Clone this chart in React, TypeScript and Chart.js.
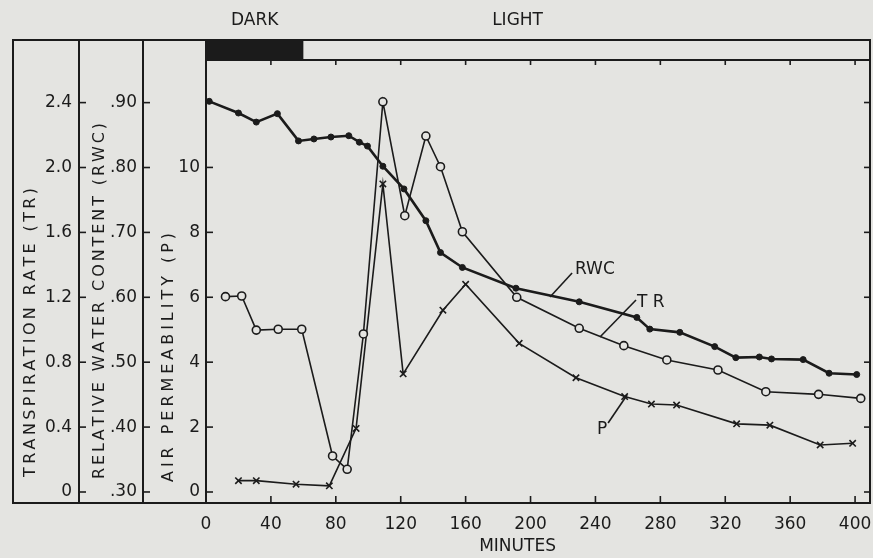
import { useEffect, useRef } from 'react';
import { Chart, registerables } from 'chart.js';

Chart.register(...registerables);

// ---------- data ----------
const RWC_MIN = [2, 20, 31, 44, 57, 66.5, 77, 88, 94.5, 99.5, 109, 122, 135.5, 144.5, 158, 191, 230, 265.5, 273.5, 292, 313.5, 326.5, 341, 348.5, 368, 384, 401];
const RWC_VAL = [0.902, 0.884, 0.870, 0.883, 0.841, 0.844, 0.847, 0.849, 0.839, 0.833, 0.802, 0.767, 0.718, 0.669, 0.646, 0.614, 0.593, 0.569, 0.551, 0.546, 0.524, 0.507, 0.508, 0.505, 0.504, 0.483, 0.481];

const TR_MIN = [12, 22, 31, 44.5, 59, 78, 87, 97, 109, 122.5, 135.5, 144.5, 158, 191.5, 230, 257.5, 284, 315.5, 345, 377.5, 403.5];
const TR_VAL = [1.204, 1.208, 0.998, 1.003, 1.003, 0.222, 0.140, 0.974, 2.405, 1.703, 2.194, 2.005, 1.604, 1.200, 1.009, 0.902, 0.814, 0.752, 0.618, 0.602, 0.577];

const P_MIN = [20, 31, 55.5, 76, 92.5, 109, 121.5, 146, 160, 193, 228, 258, 274.5, 290, 327, 347.5, 378.5, 398.5];
const P_VAL = [0.35, 0.35, 0.24, 0.19, 1.96, 9.49, 3.64, 5.6, 6.4, 4.58, 3.52, 2.94, 2.71, 2.68, 2.10, 2.06, 1.45, 1.50];

const X_TICKS = [0, 40, 80, 120, 160, 200, 240, 280, 320, 360, 400];
const TR_TICKS = [0, 0.4, 0.8, 1.2, 1.6, 2.0, 2.4];
const TR_LABELS = ['0', '0.4', '0.8', '1.2', '1.6', '2.0', '2.4'];
const RWC_TICKS = [0.3, 0.4, 0.5, 0.6, 0.7, 0.8, 0.9];
const RWC_LABELS = ['.30', '.40', '.50', '.60', '.70', '.80', '.90'];
const P_TICKS = [0, 2, 4, 6, 8, 10];
const P_LABELS = ['0', '2', '4', '6', '8', '10'];
const P_RIGHT_TICKS = [0, 2, 4, 6, 8, 10, 12];

const DARK_END = 60;

// curve labels with leader lines (minutes, TR units)
const CURVE_LABELS = ['RWC', 'T R', 'P'];
const LABEL_MIN = [227.4, 265.6, 241.0];
const LABEL_TR = [1.368, 1.165, 0.382];
const LEADER_FROM_MIN = [225.6, 265.0, 247.8];
const LEADER_FROM_TR = [1.350, 1.183, 0.425];
const LEADER_TO_MIN = [212.0, 242.8, 259.5];
const LEADER_TO_TR = [1.202, 0.955, 0.598];

// ---------- style ----------
const INK = '#1b1b1b';
const PAPER = '#e4e4e1';
const FAMILY = '"DejaVu Sans", "Liberation Sans", sans-serif';

function line(ctx: CanvasRenderingContext2D, x1: number, y1: number, x2: number, y2: number) {
  ctx.beginPath();
  ctx.moveTo(x1, y1);
  ctx.lineTo(x2, y2);
  ctx.stroke();
}

function verticalSpaced(ctx: CanvasRenderingContext2D, text: string, cx: number, yBottom: number, length: number) {
  ctx.save();
  ctx.translate(cx, yBottom);
  ctx.rotate(-Math.PI / 2);
  ctx.textAlign = 'left';
  ctx.textBaseline = 'middle';
  const chars = Array.from(text);
  const widths = chars.map((c) => ctx.measureText(c).width);
  const total = widths.reduce((a, b) => a + b, 0);
  const gap = (length - total) / (chars.length - 1);
  let x = 0;
  chars.forEach((c, i) => {
    ctx.fillText(c, x, 0);
    x += widths[i] + gap;
  });
  ctx.restore();
}

const framePlugin = {
  id: 'frame',
  beforeDraw(chart: any) {
    const { ctx, width, height } = chart;
    ctx.save();
    ctx.fillStyle = PAPER;
    ctx.fillRect(0, 0, width, height);
    ctx.restore();
  },
  afterDraw(chart: any) {
    const { ctx, chartArea: ca, scales } = chart;
    const xs = scales.x, tr = scales.tr, rwc = scales.rwc, p = scales.p;
    const top = 40;
    ctx.save();
    ctx.strokeStyle = INK;
    ctx.fillStyle = INK;
    ctx.lineWidth = 2;
    ctx.lineCap = 'square';

    const L = tr.left;
    // outer frame
    line(ctx, L, top, L, ca.bottom);
    line(ctx, L, top, ca.right, top);
    line(ctx, ca.right, top, ca.right, ca.bottom);
    line(ctx, L, ca.bottom, ca.right, ca.bottom);
    // column separators / axis lines
    [tr.right, rwc.right, p.right].forEach((xx: number) => line(ctx, xx, top, xx, ca.bottom));
    // dark/light bar
    line(ctx, p.right, ca.top, ca.right, ca.top);
    const x0 = xs.getPixelForValue(0);
    const x1 = xs.getPixelForValue(DARK_END);
    ctx.fillRect(p.right, top, x1 - p.right, ca.top - top);

    // inward y ticks
    ctx.lineWidth = 1.6;
    ctx.lineCap = 'butt';
    [tr, rwc, p].forEach((s: any) => {
      s.ticks.forEach((t: any) => {
        const y = s.getPixelForValue(t.value);
        line(ctx, s.right, y, s.right + 7, y);
      });
    });
    P_RIGHT_TICKS.forEach((v) => {
      const y = p.getPixelForValue(v);
      line(ctx, ca.right - 6, y, ca.right, y);
    });
    // x ticks (bottom pointing up, top pointing down)
    X_TICKS.forEach((v) => {
      if (v === 0) return;
      const px = xs.getPixelForValue(v);
      line(ctx, px, ca.bottom, px, ca.bottom - 7);
      line(ctx, px, ca.top, px, ca.top + 5);
    });

    // texts
    ctx.font = `17px ${FAMILY}`;
    ctx.textBaseline = 'middle';
    ctx.textAlign = 'center';
    ctx.fillText('DARK', (x0 + x1) / 2, 21);
    ctx.fillText('LIGHT', xs.getPixelForValue(192), 21);
    ctx.fillText('MINUTES', xs.getPixelForValue(192), 547);

    // axis titles
    ctx.font = `16px ${FAMILY}`;
    verticalSpaced(ctx, 'TRANSPIRATION RATE (TR)', 31, 477, 289);
    verticalSpaced(ctx, 'RELATIVE WATER CONTENT (RWC)', 100, 479, 356);
    verticalSpaced(ctx, 'AIR PERMEABILITY (P)', 169, 482, 249);

    // curve labels
    ctx.font = `17px ${FAMILY}`;
    ctx.textAlign = 'left';
    ctx.lineWidth = 1.6;
    CURVE_LABELS.forEach((lab, i) => {
      ctx.fillText(lab, xs.getPixelForValue(LABEL_MIN[i]), tr.getPixelForValue(LABEL_TR[i]));
      line(
        ctx,
        xs.getPixelForValue(LEADER_FROM_MIN[i]),
        tr.getPixelForValue(LEADER_FROM_TR[i]),
        xs.getPixelForValue(LEADER_TO_MIN[i]),
        tr.getPixelForValue(LEADER_TO_TR[i])
      );
    });
    ctx.restore();
  },
};

function yAxis(weight: number, min: number, max: number, ticks: number[], labels: string[], width: number, padding: number) {
  return {
    type: 'linear' as const,
    position: 'left' as const,
    weight,
    min,
    max,
    grid: { display: false, drawTicks: false },
    border: { display: false },
    afterBuildTicks: (s: any) => {
      s.ticks = ticks.map((v) => ({ value: v }));
    },
    afterFit: (s: any) => {
      s.width = width;
      s.paddingTop = 0;
      s.paddingBottom = 0;
    },
    ticks: {
      padding,
      color: INK,
      font: { family: FAMILY, size: 17 },
      callback: (v: any) => {
        const i = ticks.findIndex((t) => Math.abs(t - Number(v)) < 1e-6);
        return i >= 0 ? labels[i] : '';
      },
    },
  };
}

export default function App() {
  const ref = useRef<HTMLCanvasElement>(null);

  useEffect(() => {
    const canvas = ref.current;
    if (!canvas) return;
    const chart = new Chart(canvas, {
      type: 'line',
      data: {
        datasets: [
          {
            label: 'RWC',
            yAxisID: 'rwc',
            data: RWC_MIN.map((m, i) => ({ x: m, y: RWC_VAL[i] })),
            borderColor: INK,
            backgroundColor: INK,
            borderWidth: 2.6,
            pointStyle: 'circle',
            pointRadius: 3,
            pointBorderWidth: 1,
            pointBackgroundColor: INK,
            tension: 0,
          },
          {
            label: 'TR',
            yAxisID: 'tr',
            data: TR_MIN.map((m, i) => ({ x: m, y: TR_VAL[i] })),
            borderColor: INK,
            backgroundColor: PAPER,
            borderWidth: 1.6,
            pointStyle: 'circle',
            pointRadius: 4,
            pointBorderWidth: 1.6,
            pointBackgroundColor: PAPER,
            tension: 0,
          },
          {
            label: 'P',
            yAxisID: 'p',
            data: P_MIN.map((m, i) => ({ x: m, y: P_VAL[i] })),
            borderColor: INK,
            backgroundColor: INK,
            borderWidth: 1.6,
            pointStyle: 'crossRot',
            pointRadius: 4.5,
            pointBorderWidth: 1.6,
            tension: 0,
          },
        ],
      },
      options: {
        animation: false,
        responsive: false,
        maintainAspectRatio: false,
        layout: { padding: { left: 13, top: 60, right: 3, bottom: 0 }, autoPadding: false },
        plugins: { legend: { display: false }, tooltip: { enabled: false } },
        scales: {
          x: {
            type: 'linear',
            position: 'bottom',
            min: 0,
            max: 409.2,
            grid: { display: false, drawTicks: false },
            border: { display: false },
            afterBuildTicks: (s: any) => {
              s.ticks = X_TICKS.map((v) => ({ value: v }));
            },
            afterFit: (s: any) => {
              s.height = 55;
              s.paddingLeft = 0;
              s.paddingRight = 0;
            },
            ticks: {
              padding: 11,
              maxRotation: 0,
              autoSkip: false,
              color: INK,
              font: { family: FAMILY, size: 17 },
              callback: (v: any) => String(v),
            },
          },
          tr: yAxis(3, -0.0678, 2.6626, TR_TICKS, TR_LABELS, 66, 7),
          rwc: yAxis(2, 0.283, 0.9657, RWC_TICKS, RWC_LABELS, 64, 6),
          p: yAxis(1, -0.339, 13.31, P_TICKS, P_LABELS, 63, 6),
        },
      },
      plugins: [framePlugin],
    } as any);
    return () => chart.destroy();
  }, []);

  return (
    <div style={{ position: 'absolute', left: 0, top: 0, width: 873, height: 558, background: PAPER }}>
      <canvas ref={ref} width={873} height={558} style={{ display: 'block', width: 873, height: 558 }} />
    </div>
  );
}
